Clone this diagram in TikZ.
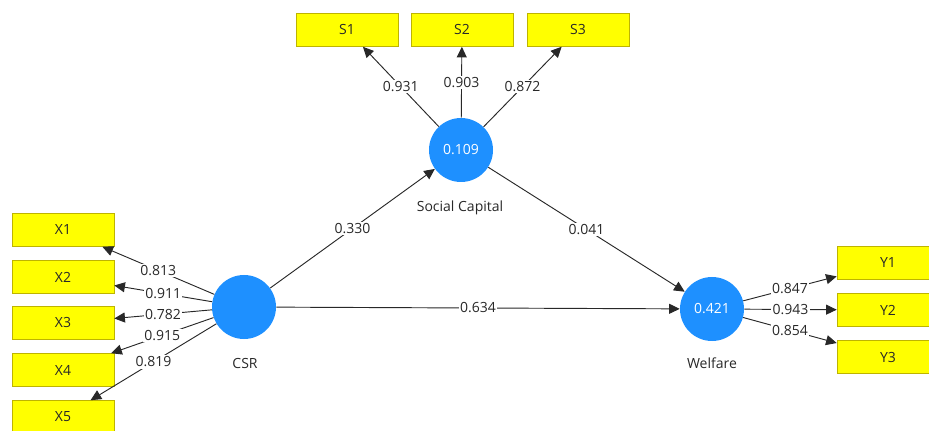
\documentclass[tikz,border=0pt]{standalone}
\usepackage{fontspec}
\setmainfont{Open Sans}
\usetikzlibrary{arrows.meta}
\definecolor{lvblue}{RGB}{30,144,255}
\definecolor{boxyellow}{RGB}{255,255,0}
\definecolor{boxedge}{RGB}{190,180,0}
\definecolor{linegray}{RGB}{40,40,40}

\begin{document}
\begin{tikzpicture}[x=0.75pt,y=-0.75pt,
    font=\fontsize{10.5}{12}\selectfont,
    latent/.style={circle,fill=lvblue,minimum size=48pt,inner sep=0pt,text=white},
    item/.style={draw=boxedge,fill=boxyellow,minimum width=76.5pt,minimum height=24.75pt,
      inner sep=0pt,text=linegray},
    link/.style={draw=linegray,line width=0.7pt,-{Triangle[length=8pt,width=7.5pt]}},
    coef/.style={fill=white,inner sep=1pt,text=linegray},
    lvname/.style={text=linegray}]
  \useasboundingbox (0,0) rectangle (929,431);
  \clip (0,0) rectangle (929,431);

  %% Latent variables
  \node[latent] (csr) at (244,307) {};
  \node[latent] (sc)  at (461,150) {0.109};
  \node[latent] (wf)  at (712,309) {0.421};
  \node[lvname] (csrname) at (245,363) {CSR};
  \node[lvname] (scname)  at (460,208) {Social Capital};
  \node[lvname] (wfname)  at (712,363) {Welfare};

  %% Indicators
  \foreach \n/\yy in {1/230,2/277,3/323,4/370,5/417}
    \node[item] (x\n) at (63,\yy) {X\n};
  \foreach \n/\xx in {1/347,2/462,3/578}
    \node[item] (s\n) at (\xx,30) {S\n};
  \foreach \n/\yy in {1/263,2/310,3/357}
    \node[item] (y\n) at (888,\yy) {Y\n};

  %% Outer loadings
  \foreach \n/\v in {1/0.813,2/0.911,3/0.782,4/0.915,5/0.819}
    \draw[link] (csr) -- node[coef] {\v} (x\n);
  \foreach \n/\v in {1/0.931,2/0.903,3/0.872}
    \draw[link] (sc) -- node[coef] {\v} (s\n);
  \foreach \n/\v in {1/0.847,2/0.943,3/0.854}
    \draw[link] (wf) -- node[coef] {\v} (y\n);

  %% Path coefficients
  \draw[link] (csr) -- node[coef] {0.330} (sc);
  \draw[link] (sc)  -- node[coef] {0.041} (wf);
  \draw[link] (csr) -- node[coef] {0.634} (wf);
\end{tikzpicture}
\end{document}
